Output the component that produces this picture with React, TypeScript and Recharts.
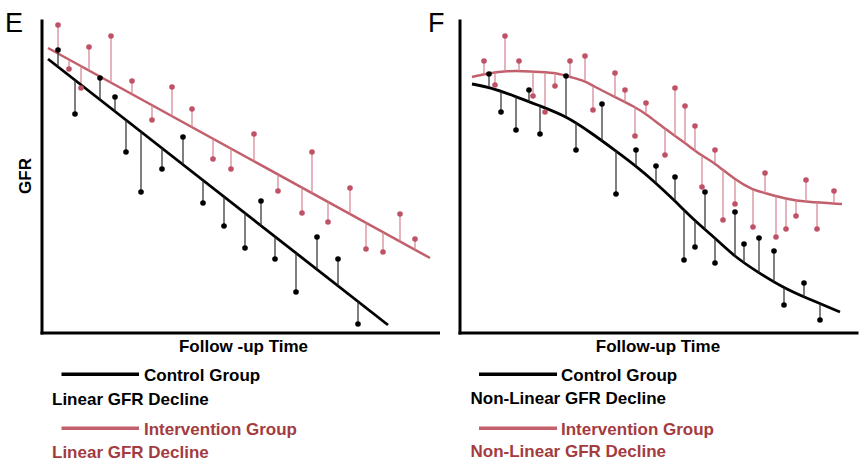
import React from 'react';
import { ComposedChart, Line, Scatter, XAxis, YAxis, ErrorBar } from 'recharts';

type P = { t: number; gfr: number };
const toPts = (a: number[][]): P[] => a.map(([t, gfr]) => ({ t, gfr }));

// ---------- Panel E : linear GFR decline ----------
const eControlLine = toPts([[6, 274], [346, 8]]);
const eInterventionLine = toPts([[6, 285], [388, 75]]);
const eControlPoints = toPts([
  [16, 283], [33, 219], [58, 255], [73, 236], [84, 181], [99, 141], [120, 164], [141, 196],
  [161, 130], [182, 107], [203, 85], [219, 132], [233, 74], [254, 41], [275, 96], [296, 74], [316, 9],
]);
const eInterventionPoints = toPts([
  [16, 308], [27, 264], [39, 245], [47, 286], [69, 297], [90, 252], [110, 213], [130, 246],
  [150, 224], [171, 174], [189, 164], [212, 199], [236, 142], [260, 120], [270, 181], [286, 111],
  [308, 145], [324, 84], [341, 81], [358, 119], [373, 94],
]);

// ---------- Panel F : non-linear GFR decline ----------
const fControlCurve = toPts([
  [12, 249], [29, 246], [57, 236], [80, 227], [106, 217], [130, 201], [156, 182], [176, 167],
  [196, 150], [215, 132], [235, 112], [255, 95], [275, 76], [299, 60], [324, 45], [344, 36], [380, 21],
]);
const fInterventionCurve = toPts([
  [12, 256], [30, 260], [47, 262], [63, 262], [80, 261], [97, 260], [110, 256], [125, 252],
  [133, 247], [155, 236], [175, 226], [186, 219], [205, 204], [225, 190], [242, 177], [255, 170],
  [275, 153], [293, 143], [305, 140], [326, 134], [346, 131], [382, 129],
]);
const fControlPoints = toPts([
  [29, 259], [41, 221], [56, 203], [69, 243], [80, 199], [106, 257], [116, 183], [142, 229],
  [156, 139], [176, 183], [196, 167], [215, 156], [224, 73], [235, 86], [245, 141], [255, 70],
  [275, 121], [284, 89], [299, 95], [314, 82], [324, 28], [344, 50], [360, 13],
]);
const fInterventionPoints = toPts([
  [24, 272], [35, 248], [45, 297], [59, 272], [73, 237], [85, 221], [95, 247], [110, 272],
  [125, 277], [133, 223], [155, 260], [165, 243], [175, 197], [186, 230], [205, 178], [215, 245],
  [225, 227], [235, 207], [242, 146], [255, 183], [263, 113], [275, 129], [293, 106], [305, 160],
  [316, 96], [326, 104], [336, 117], [346, 153], [357, 104], [374, 142],
]);

const GFR_MAX = 312;

const fitAt = (curve: P[], t: number): number => {
  if (t <= curve[0].t) {
    const [a, b] = curve;
    return a.gfr + ((b.gfr - a.gfr) * (t - a.t)) / (b.t - a.t);
  }
  for (let i = 1; i < curve.length; i++) {
    const a = curve[i - 1];
    const b = curve[i];
    if (t <= b.t) return a.gfr + ((b.gfr - a.gfr) * (t - a.t)) / (b.t - a.t);
  }
  const a = curve[curve.length - 2];
  const b = curve[curve.length - 1];
  return a.gfr + ((b.gfr - a.gfr) * (t - a.t)) / (b.t - a.t);
};

const withStems = (pts: P[], curve: P[]) =>
  pts.map((p) => {
    const f = fitAt(curve, p.t);
    return { ...p, stem: [Math.max(0, p.gfr - f), Math.max(0, f - p.gfr)] };
  });

const BLACK = '#000000';
const RED_LINE = '#c25f6b';
const RED_DOT = '#bf5266';
const RED_STEM = '#d3828f';
const BLACK_STEM = '#2a2a2a';
const RED_TEXT = '#a33b3f';

const dot = (fill: string) => (props: any) =>
  <circle cx={props.cx} cy={props.cy} r={2.8} fill={fill} />;

type PanelProps = {
  left: number;
  width: number;
  margin: { top: number; right: number; bottom: number; left: number };
  xMax: number;
  curveType: 'linear' | 'basis';
  controlLine: P[];
  interventionLine: P[];
  controlPoints: P[];
  interventionPoints: P[];
};

const Panel = (p: PanelProps) => (
  <div style={{ position: 'absolute', left: p.left, top: 0 }}>
    <ComposedChart width={p.width} height={340} margin={p.margin}>
      <XAxis
        type="number"
        dataKey="t"
        domain={[0, p.xMax]}
        allowDataOverflow
        tick={false}
        tickLine={false}
        height={1}
        axisLine={{ stroke: '#000', strokeWidth: 3, strokeLinecap: 'square' }}
      />
      <YAxis
        type="number"
        dataKey="gfr"
        domain={[0, GFR_MAX]}
        allowDataOverflow
        tick={false}
        tickLine={false}
        width={1}
        axisLine={{ stroke: '#000', strokeWidth: 3, strokeLinecap: 'square' }}
      />
      <Line
        data={p.interventionLine}
        dataKey="gfr"
        type={p.curveType}
        stroke={RED_LINE}
        strokeWidth={2.5}
        dot={false}
        activeDot={false}
        isAnimationActive={false}
      />
      <Scatter
        data={withStems(p.interventionPoints, p.interventionLine)}
        dataKey="gfr"
        shape={dot(RED_DOT)}
        isAnimationActive={false}
      >
        <ErrorBar dataKey="stem" direction="y" width={0} stroke={RED_STEM} strokeWidth={1.2} isAnimationActive={false} />
      </Scatter>
      <Line
        data={p.controlLine}
        dataKey="gfr"
        type={p.curveType}
        stroke={BLACK}
        strokeWidth={2.8}
        dot={false}
        activeDot={false}
        isAnimationActive={false}
      />
      <Scatter
        data={withStems(p.controlPoints, p.controlLine)}
        dataKey="gfr"
        shape={dot(BLACK)}
        isAnimationActive={false}
      >
        <ErrorBar dataKey="stem" direction="y" width={0} stroke={BLACK_STEM} strokeWidth={1.2} isAnimationActive={false} />
      </Scatter>
    </ComposedChart>
  </div>
);

const FONT = '"Liberation Sans", Arial, sans-serif';

const Labels = () => (
  <svg
    width={860}
    height={461}
    style={{ position: 'absolute', left: 0, top: 0, pointerEvents: 'none' }}
    fontFamily={FONT}
  >
    <text x={5} y={32} fontSize={27}>E</text>
    <text x={428} y={32} fontSize={27}>F</text>
    <text transform="translate(31,176) rotate(-90)" textAnchor="middle" fontSize={17} fontWeight="bold">GFR</text>

    <text x={243.5} y={352} textAnchor="middle" fontSize={17} fontWeight="bold">Follow -up Time</text>
    <text x={658} y={352} textAnchor="middle" fontSize={17} fontWeight="bold">Follow-up Time</text>

    {/* left legend */}
    <line x1={61.5} x2={139} y1={374.3} y2={374.3} stroke={BLACK} strokeWidth={3.5} />
    <text x={144} y={381} fontSize={17} fontWeight="bold">Control Group</text>
    <text x={52} y={405} fontSize={17} fontWeight="bold">Linear GFR Decline</text>
    <line x1={61.5} x2={139} y1={428.3} y2={428.3} stroke={RED_LINE} strokeWidth={3.5} />
    <text x={144} y={435} fontSize={17} fontWeight="bold" fill={RED_TEXT}>Intervention Group</text>
    <text x={52} y={457.5} fontSize={17} fontWeight="bold" fill={RED_TEXT}>Linear GFR Decline</text>

    {/* right legend */}
    <line x1={479} x2={557} y1={374.3} y2={374.3} stroke={BLACK} strokeWidth={3.5} />
    <text x={561} y={381} fontSize={17} fontWeight="bold">Control Group</text>
    <text x={470.5} y={404} fontSize={17} fontWeight="bold">Non-Linear GFR Decline</text>
    <line x1={479} x2={557} y1={428.3} y2={428.3} stroke={RED_LINE} strokeWidth={3.5} />
    <text x={561} y={435} fontSize={17} fontWeight="bold" fill={RED_TEXT}>Intervention Group</text>
    <text x={470.5} y={457} fontSize={17} fontWeight="bold" fill={RED_TEXT}>Non-Linear GFR Decline</text>
  </svg>
);

export default function App() {
  return (
    <div style={{ position: 'absolute', left: 0, top: 0, width: 860, height: 461, background: '#fff' }}>
      <Panel
        left={0}
        width={440}
        margin={{ top: 21, right: 0, bottom: 6, left: 41 }}
        xMax={398}
        curveType="linear"
        controlLine={eControlLine}
        interventionLine={eInterventionLine}
        controlPoints={eControlPoints}
        interventionPoints={eInterventionPoints}
      />
      <Panel
        left={440}
        width={420}
        margin={{ top: 21, right: 3, bottom: 6, left: 19 }}
        xMax={397}
        curveType="basis"
        controlLine={fControlCurve}
        interventionLine={fInterventionCurve}
        controlPoints={fControlPoints}
        interventionPoints={fInterventionPoints}
      />
      <Labels />
    </div>
  );
}
